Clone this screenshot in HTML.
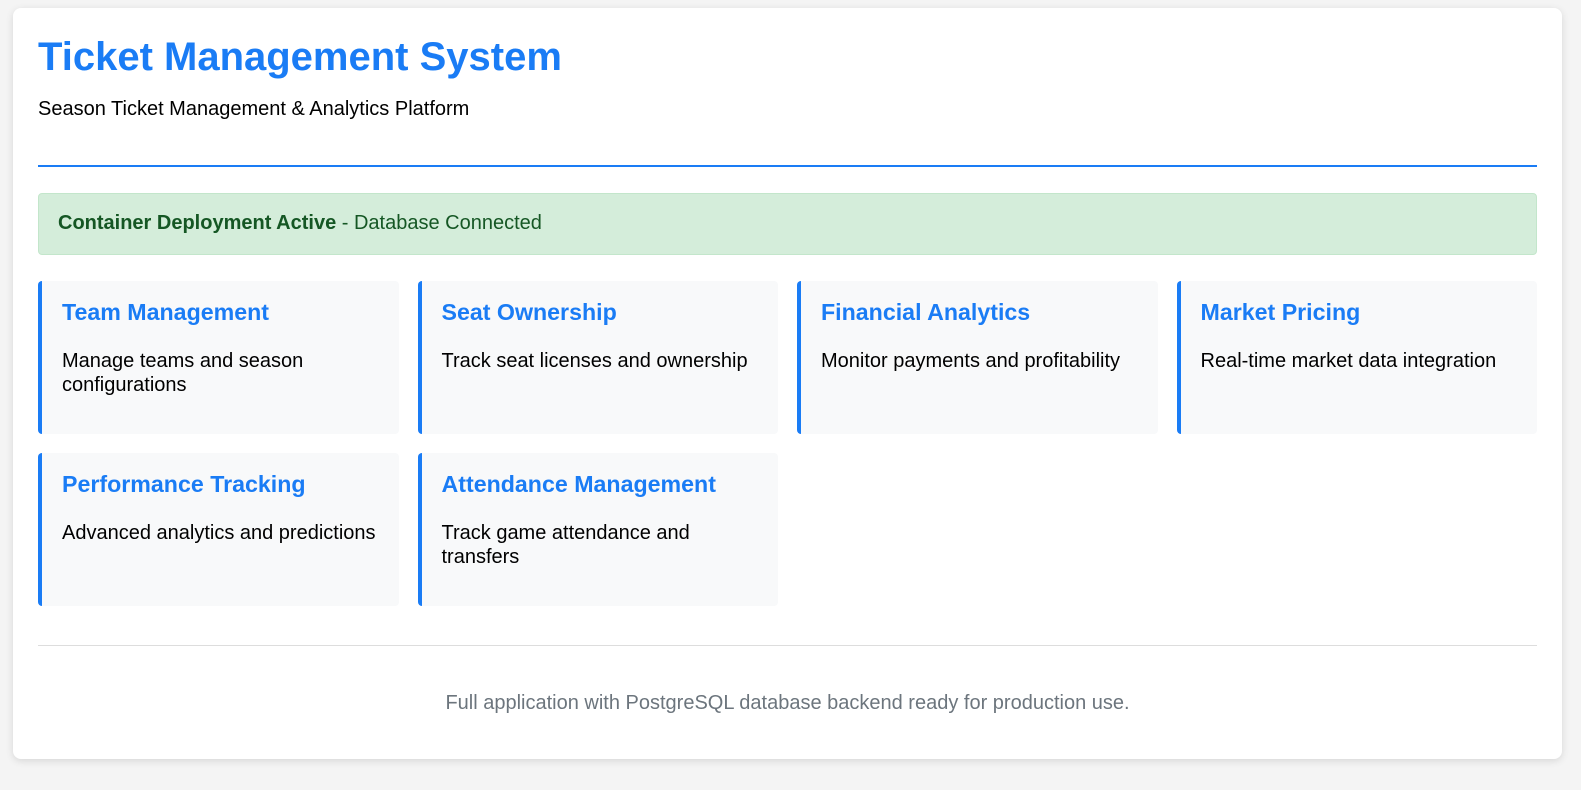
<!DOCTYPE html>
<html><head><meta charset="utf-8"><style>
*{box-sizing:border-box;margin:0;padding:0}
body{width:1581px;height:790px;background:#f4f4f4;font-family:"Liberation Sans",Arial,sans-serif;overflow:hidden}
.container{position:absolute;left:13px;top:8px;width:1549px;height:751px;background:#fff;border-radius:8px;box-shadow:0 2px 8px rgba(0,0,0,0.12)}
h1{position:absolute;left:25px;top:27px;font-size:40px;color:#1a7cf5;font-weight:bold}
.sub{position:absolute;left:25px;top:90px;font-size:20px;color:#000}
.line{position:absolute;left:25px;right:25px;top:157px;height:2px;background:#1a7cf5}
.alert{position:absolute;left:25px;right:25px;top:185px;height:62px;background:#d4edda;border:1px solid #c3e6cb;border-radius:4px;color:#155724;font-size:20px;padding:18px 19px}
.grid{position:absolute;left:25px;top:273px;width:1499px;display:grid;grid-template-columns:repeat(4,1fr);gap:19px}
.card{height:153px;background:#f8f9fa;border-left:4px solid #1a7cf5;border-radius:4px;padding:18px 20px}
.card h3{font-size:23.2px;color:#1a7cf5;font-weight:bold;margin-bottom:23px}
.card p{font-size:20px;color:#000;line-height:24px}
.hr{position:absolute;left:25px;right:25px;top:637px;height:1px;background:#ddd}
.foot{position:absolute;left:0;right:0;top:684px;text-align:center;color:#6c757d;font-size:20px}
</style></head><body>
<div class="container">
<h1>Ticket Management System</h1>
<div class="sub">Season Ticket Management &amp; Analytics Platform</div>
<div class="line"></div>
<div class="alert"><b>Container Deployment Active</b> - Database Connected</div>
<div class="grid">
<div class="card"><h3>Team Management</h3><p>Manage teams and season configurations</p></div>
<div class="card"><h3>Seat Ownership</h3><p>Track seat licenses and ownership</p></div>
<div class="card"><h3>Financial Analytics</h3><p>Monitor payments and profitability</p></div>
<div class="card"><h3>Market Pricing</h3><p>Real-time market data integration</p></div>
<div class="card"><h3>Performance Tracking</h3><p>Advanced analytics and predictions</p></div>
<div class="card"><h3>Attendance Management</h3><p>Track game attendance and transfers</p></div>
</div>
<div class="hr"></div>
<div class="foot">Full application with PostgreSQL database backend ready for production use.</div>
</div>
</body></html>
